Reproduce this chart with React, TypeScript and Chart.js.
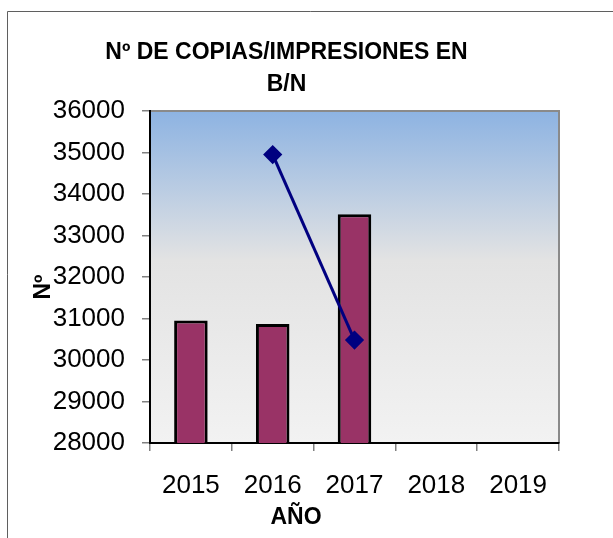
import React, { useEffect, useRef } from "react";
import { Chart, registerables } from "chart.js";

Chart.register(...registerables);

const categories = ["2015", "2016", "2017", "2018", "2019"];
const barValues: (number | null)[] = [30950, 30870, 33510, null, null];
const lineValues: (number | null)[] = [null, 34950, 30480, null, null];
const titleLines = ["Nº DE COPIAS/IMPRESIONES EN", "B/N"];
const xTitle = "AÑO";
const yTitle = "Nº";
const yMin = 28000;
const yMax = 36000;
const yStep = 1000;

const FONT = "'Liberation Sans', Arial, sans-serif";

const decorPlugin = {
  id: "decor",
  beforeDraw(chart: any) {
    const { ctx, chartArea } = chart;
    const { left, top, right, bottom } = chartArea;
    ctx.save();
    ctx.strokeStyle = "#5f5f5f";
    ctx.lineWidth = 1;
    ctx.beginPath();
    ctx.moveTo(7.5, 538);
    ctx.lineTo(7.5, 11.5);
    ctx.lineTo(613, 11.5);
    ctx.stroke();
    const g = ctx.createLinearGradient(0, top, 0, bottom);
    g.addColorStop(0, "#8db3e2");
    g.addColorStop(0.45, "#e3e3e3");
    g.addColorStop(1, "#f2f2f2");
    ctx.fillStyle = g;
    ctx.fillRect(left, top, right - left, bottom - top);
    ctx.strokeStyle = "#8a8a8a";
    ctx.lineWidth = 2;
    ctx.beginPath();
    ctx.moveTo(left, top);
    ctx.lineTo(right, top);
    ctx.lineTo(right, bottom);
    ctx.stroke();
    ctx.restore();
  },
  afterDraw(chart: any) {
    const { ctx, chartArea } = chart;
    ctx.save();
    ctx.fillStyle = "#000";
    ctx.textBaseline = "alphabetic";
    ctx.textAlign = "center";
    ctx.font = `bold 23px ${FONT}`;
    ctx.fillText(titleLines[0], 286.5, 59);
    ctx.fillText(titleLines[1], 286.5, 91);
    ctx.fillText(xTitle, chartArea.left + 146, 524);
    ctx.translate(50, 287);
    ctx.rotate(-Math.PI / 2);
    ctx.fillText(yTitle, 0, 0);
    ctx.restore();
  },
};

export default function App() {
  const ref = useRef<HTMLCanvasElement>(null);
  useEffect(() => {
    if (!ref.current) return;
    const chart = new Chart(ref.current, {
      type: "bar",
      data: {
        labels: categories,
        datasets: [
          {
            type: "line",
            data: lineValues,
            borderColor: "#000080",
            backgroundColor: "#000080",
            borderWidth: 3,
            pointStyle: "rectRot",
            pointRadius: 7.5,
            pointBackgroundColor: "#000080",
            pointBorderColor: "#000080",
            spanGaps: false,
            order: 0,
          } as any,
          {
            type: "bar",
            data: barValues,
            backgroundColor: "#993366",
            borderColor: "#000000",
            borderWidth: 3,
            borderSkipped: false,
            barPercentage: 0.41,
            categoryPercentage: 1,
            order: 1,
          } as any,
        ],
      },
      options: {
        responsive: false,
        animation: false,
        layout: { padding: { top: 111, right: 54, bottom: 0, left: 0 } },
        plugins: {
          legend: { display: false },
          title: { display: false },
          tooltip: { enabled: false },
        },
        scales: {
          x: {
            afterFit: (s: any) => {
              s.height = 95;
            },
            grid: {
              display: true,
              offset: true,
              drawOnChartArea: false,
              drawTicks: true,
              tickLength: 8,
              color: "#808080",
              lineWidth: 1.5,
            },
            border: { display: true, color: "#000", width: 2 },
            ticks: {
              color: "#000",
              font: { family: FONT, size: 26 },
              padding: 19,
              maxRotation: 0,
            },
          },
          y: {
            min: yMin,
            max: yMax,
            afterFit: (s: any) => {
              s.width = 150;
            },
            grid: {
              display: true,
              drawOnChartArea: false,
              drawTicks: true,
              tickLength: 8,
              color: "#808080",
              lineWidth: 1.5,
            },
            border: { display: true, color: "#000", width: 2 },
            ticks: {
              stepSize: yStep,
              color: "#000",
              font: { family: FONT, size: 26 },
              padding: 17,
              callback: (v: any) => String(v),
            },
          },
        },
      },
      plugins: [decorPlugin],
    });
    return () => chart.destroy();
  }, []);
  return (
    <div style={{ position: "fixed", left: 0, top: 0, width: 613, height: 538, background: "#fff" }}>
      <canvas ref={ref} width={613} height={538} style={{ display: "block" }} />
    </div>
  );
}
